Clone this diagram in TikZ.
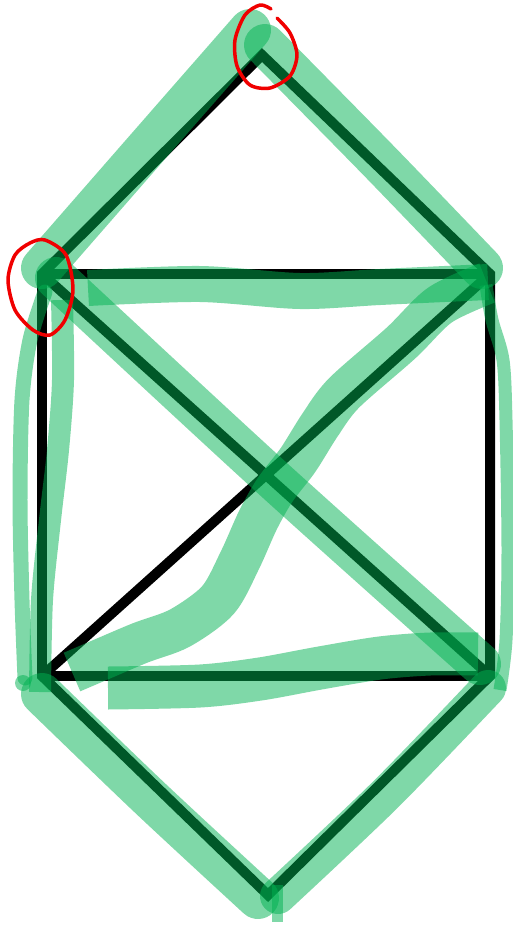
\documentclass[tikz,border=0pt]{standalone}
\usetikzlibrary{calc}
\definecolor{marker}{RGB}{0,177,81}
\definecolor{pen}{RGB}{240,0,0}
\begin{document}
\begin{tikzpicture}[x=0.02cm, y=-0.02cm,
        beam/.style={line width=0.2cm, line join=miter, black},
        hl/.style={draw=marker, opacity=0.5, line width=0.84cm, line join=round, line cap=butt},
        ring/.style={draw=pen, line width=0.07cm, line cap=round, line join=round}]
        \useasboundingbox (0,0) rectangle (513,927);

        % Corners
        \coordinate (apex) at (262,55);
        \coordinate (tl) at (42,274);
        \coordinate (tr) at (490,274);
        \coordinate (br) at (490,676);
        \coordinate (bl) at (42,676);
        \coordinate (bot) at (268,895);

        % Black figure
        \draw[beam] (apex) -- (tr) -- (br) -- (bot) -- (bl) -- (tl) -- cycle;
        \draw[beam] (tl) -- (tr);
        \draw[beam] (bl) -- (br);
        \draw[beam] (tl) -- (br);
        \draw[beam] (bl) -- (tr);

        % Highlighter strokes
        \draw[hl, line cap=round] plot[smooth] coordinates {(42,268) (145,150) (250,30)};
        \draw[hl, line cap=round] plot[smooth] coordinates {(265,45) (380,162) (482,268)};
        \draw[hl, line width=0.72cm] plot[smooth] coordinates {(88,288) (200,284) (300,291) (380,287) (488,282)};
        \draw[hl, line cap=round] plot[smooth] coordinates {(56,278) (270,476) (480,664)};
        \draw[hl, line width=0.26cm] plot[smooth] coordinates {(486,285) (492,320) (503,360) (506,420) (508,550) (506,640) (500,690)};
        \draw[hl, line width=0.3cm, line cap=round] plot[smooth] coordinates {(45,292) (30,340) (22,400) (20,500) (22,600) (25,678)};
        \fill[marker, opacity=0.5] (23,683) circle (8);
        \draw[hl, line width=0.44cm] plot[smooth] coordinates {(62,300) (63,380) (58,450) (50,520) (42,600) (40,692)};
        \draw[hl] plot[smooth] coordinates {(487,283) (440,305) (401,343) (344,393) (320,425) (298,460) (275,490) (258,520) (240,560) (218,600) (180,628) (140,643) (100,660) (72,672)};
        \draw[hl, line width=0.86cm] plot[smooth] coordinates {(108,688) (200,686) (260,679) (320,668) (380,658) (430,654) (478,654)};
        \draw[hl, line cap=round] plot[smooth] coordinates {(42,694) (150,798) (258,898)};
        \draw[hl, line width=0.72cm, line cap=round] plot[smooth] coordinates {(488,688) (385,795) (278,896)};
        \draw[hl, line width=0.22cm] plot coordinates {(277,885) (277,922)};

        % Red rings
        \draw[ring] plot[smooth] coordinates {(277,18) (290,33) (297,55) (290,76) (270,88) (250,85) (237,66) (235,40) (245,15) (260,5) (271,9)};
        \draw[ring] plot[smooth cycle] coordinates {(45,240) (66,255) (73,290) (65,320) (50,335) (33,330) (15,310) (8,280) (15,255) (30,243)};
\end{tikzpicture}
\end{document}
